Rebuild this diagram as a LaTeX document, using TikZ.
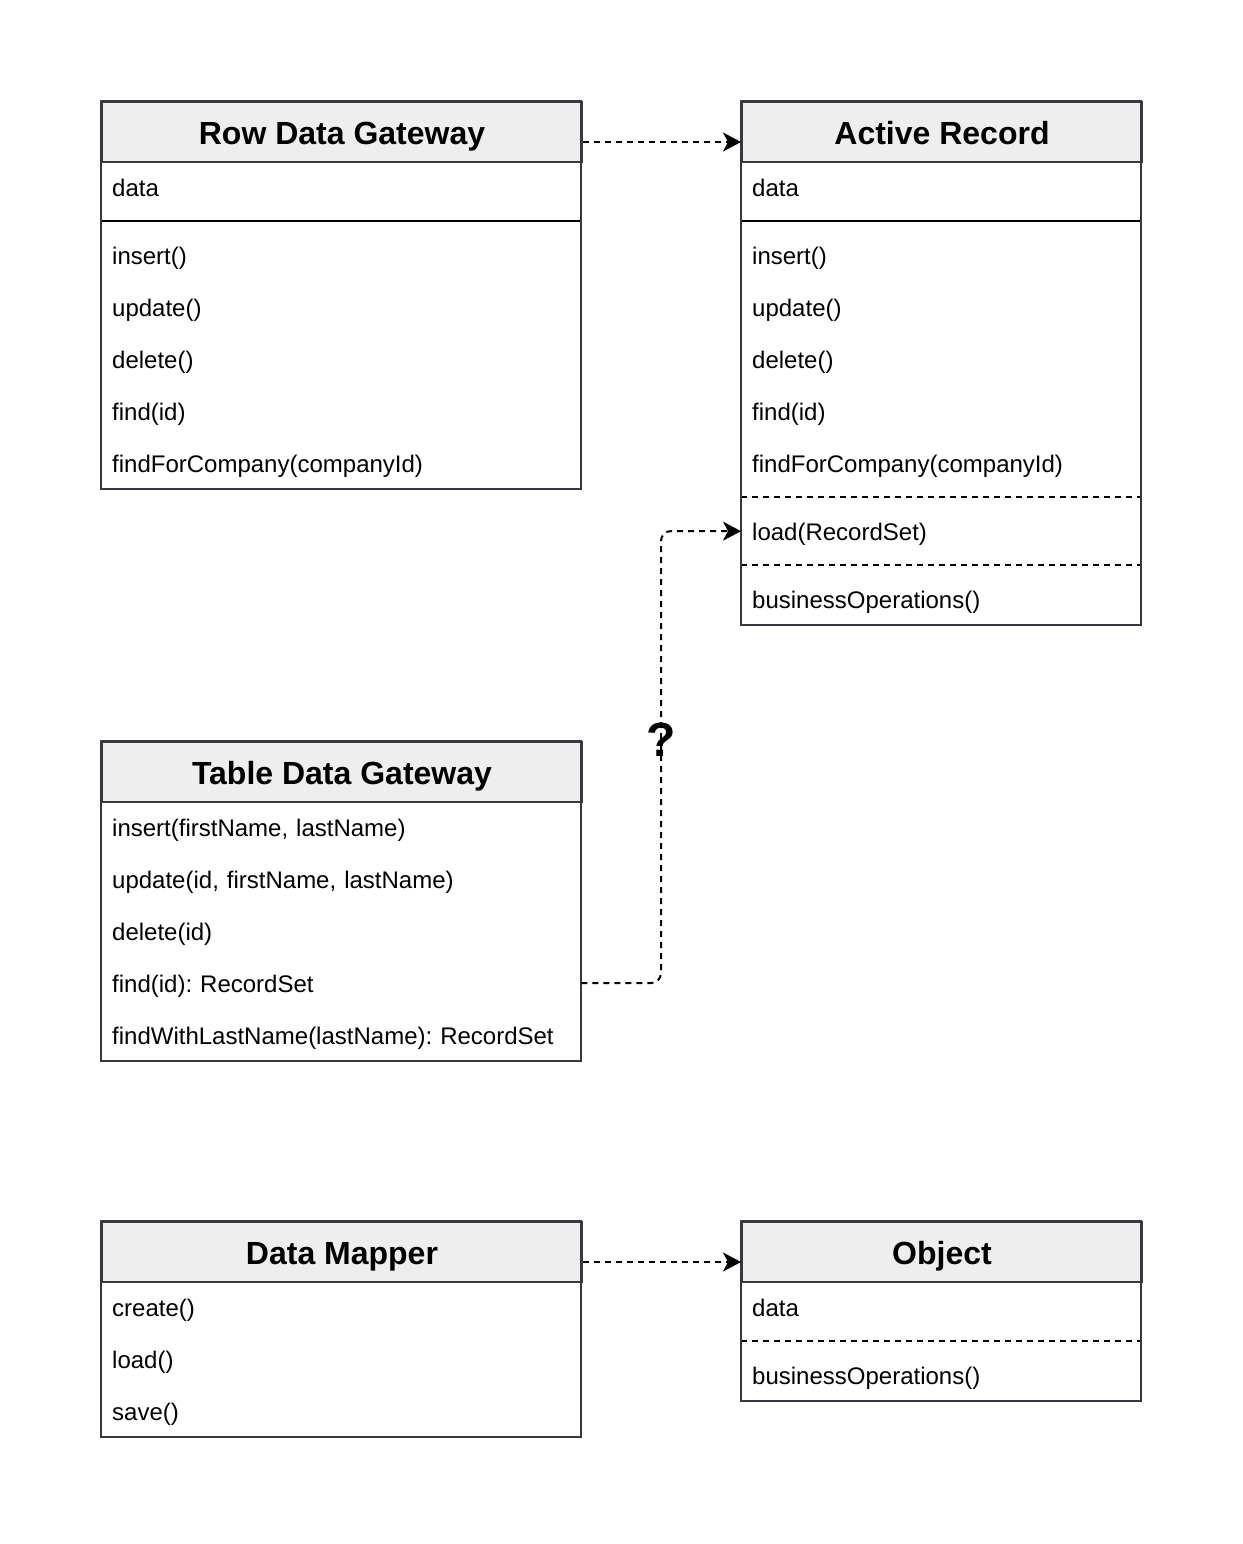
\documentclass[tikz,border=0pt]{standalone}
\usepackage{fontspec}
\setmainfont{Liberation Sans}
\usetikzlibrary{arrows.meta}
\definecolor{strokec}{HTML}{36393D}
\definecolor{headc}{HTML}{EEEEEE}
\frenchspacing
\begin{document}
\begin{tikzpicture}[x=1pt,y=-1pt,
  header/.style={draw=strokec, fill=headc, line width=2pt, minimum height=60pt, inner sep=0pt,
    text height=31pt, text depth=7pt,
    anchor=north west, font=\fontsize{32}{38}\selectfont\bfseries},
  row/.style={minimum height=52pt, inner xsep=11pt, inner ysep=0pt, align=left,
    text height=23pt, text depth=5pt,
    anchor=north west, font=\fontsize{24}{28}\selectfont},
  wrow/.style={row, text width=458pt},
  nrow/.style={row, text width=378pt},
  boxline/.style={draw=strokec, line width=2pt},
  sepline/.style={draw=black, line width=2pt},
  dsep/.style={draw=black, line width=2pt, dash pattern=on 6pt off 5pt},
  conn/.style={line width=2pt, dash pattern=on 6pt off 5pt, -{Stealth[length=18pt,width=19pt,inset=5pt]}},
]
\useasboundingbox (0,0) rectangle (1242,1544);
\fill[white] (0,0) rectangle (1242,1544);

% Row Data Gateway
\node[header, minimum width=480pt] (rdgh) at (101,101) {Row Data Gateway};
\node[wrow] (rdg0) at (101,161) {data};
\node[wrow] (rdg1) at (101,229) {insert()};
\node[wrow] (rdg2) at (101,281) {update()};
\node[wrow] (rdg3) at (101,333) {delete()};
\node[wrow] (rdg4) at (101,385) {find(id)};
\node[wrow] (rdg5) at (101,437) {findForCompany(companyId)};
\draw[sepline] (101,221) -- (581,221);
\draw[boxline] (rdgh.north west) rectangle (rdg5.south east);

% Active Record
\node[header, minimum width=400pt] (arh) at (741,101) {Active Record};
\node[nrow] (ar0) at (741,161) {data};
\node[nrow] (ar1) at (741,229) {insert()};
\node[nrow] (ar2) at (741,281) {update()};
\node[nrow] (ar3) at (741,333) {delete()};
\node[nrow] (ar4) at (741,385) {find(id)};
\node[nrow] (ar5) at (741,437) {findForCompany(companyId)};
\node[nrow] (ar6) at (741,505) {load(RecordSet)};
\node[nrow] (ar7) at (741,573) {businessOperations()};
\draw[sepline] (741,221) -- (1141,221);
\draw[dsep] (741,497) -- (1141,497);
\draw[dsep] (741,565) -- (1141,565);
\draw[boxline] (arh.north west) rectangle (ar7.south east);

% Table Data Gateway
\node[header, minimum width=480pt] (tdgh) at (101,741) {Table Data Gateway};
\node[wrow] (tdg1) at (101,801) {insert(firstName, lastName)};
\node[wrow] (tdg2) at (101,853) {update(id, firstName, lastName)};
\node[wrow] (tdg3) at (101,905) {delete(id)};
\node[wrow] (tdg4) at (101,957) {find(id): RecordSet};
\node[wrow] (tdg5) at (101,1009) {findWithLastName(lastName): RecordSet};
\draw[boxline] (tdgh.north west) rectangle (tdg5.south east);

% Data Mapper
\node[header, minimum width=480pt] (dmh) at (101,1221) {Data Mapper};
\node[wrow] (dm1) at (101,1281) {create()};
\node[wrow] (dm2) at (101,1333) {load()};
\node[wrow] (dm3) at (101,1385) {save()};
\draw[boxline] (dmh.north west) rectangle (dm3.south east);

% Object
\node[header, minimum width=400pt] (obh) at (741,1221) {Object};
\node[nrow] (ob0) at (741,1281) {data};
\node[nrow] (ob1) at (741,1349) {businessOperations()};
\draw[dsep] (741,1341) -- (1141,1341);
\draw[boxline] (obh.north west) rectangle (ob1.south east);

% Connectors
\draw[conn] ([yshift=21pt]rdgh.south east) -- ([yshift=21pt]arh.south west);
\draw[conn] ([yshift=21pt]dmh.south east) -- ([yshift=21pt]obh.south west);
\coordinate (qb) at (661,983);
\coordinate (qt) at (661,531);
\draw[conn, rounded corners=10pt] (tdg4.east) -- (qb) -- (qt) -- (ar6.west);
\node[font=\fontsize{48}{52}\selectfont\bfseries, inner sep=0pt] (q) at (661,740) {?};
\end{tikzpicture}
\end{document}
